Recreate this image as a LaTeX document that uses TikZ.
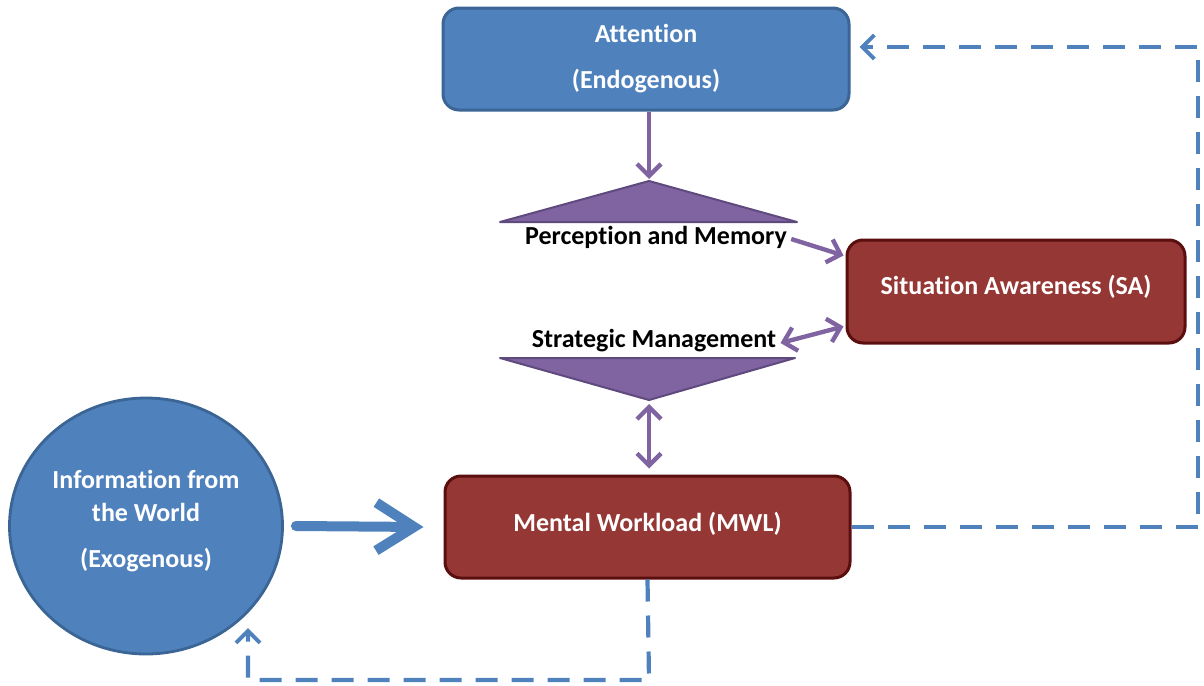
\documentclass[tikz,border=0pt]{standalone}
\usepackage{fontspec}
\setmainfont{Carlito}[Ligatures=NoCommon]
\usetikzlibrary{arrows.meta,calc,shapes.geometric}
\definecolor{boxblue}{HTML}{4F81BD}
\definecolor{blueedge}{HTML}{3A6594}
\definecolor{boxred}{HTML}{953735}
\definecolor{rededge}{HTML}{5A0E0E}
\definecolor{tripurple}{HTML}{8064A2}
\definecolor{purpleedge}{HTML}{5F4A7E}
\tikzset{
  labelfont/.style={font=\bfseries\fontsize{13}{15}\selectfont},
  bluebox/.style={draw=blueedge,fill=boxblue,line width=1.5pt,rounded corners=8pt,
    text=white,labelfont,align=center},
  redbox/.style={draw=rededge,fill=boxred,line width=1.5pt,rounded corners=8pt,
    text=white,labelfont,align=center},
  tri/.style={draw=purpleedge,fill=tripurple,line width=1pt,line join=round},
  trilabel/.style={labelfont,text=black,inner sep=0pt},
  parrow/.style={draw=tripurple,line width=2.2pt,
    -{Straight Barb[length=6pt,width=12pt,line width=2.2pt]}},
  pboth/.style={draw=tripurple,line width=2.2pt,
    {Straight Barb[length=6pt,width=12pt,line width=2.2pt]}-{Straight Barb[length=6pt,width=12pt,line width=2.2pt]}},
  bigarrow/.style={draw=boxblue,line width=5pt,line cap=round,
    -{Straight Barb[length=19pt,width=24pt,line width=5pt]}},
  feedback/.style={draw=boxblue,line width=2.1pt,dash pattern=on 11pt off 7pt,
    -{Straight Barb[length=6pt,width=12pt,line width=2pt]}}
}
\begin{document}
\begin{tikzpicture}[x=0.5pt,y=-0.5pt]
\useasboundingbox (0,0) rectangle (1204,685);

% boxes
\node[bluebox,minimum width=203pt,minimum height=51pt] (att) at (646,59)
  {\raisebox{1pt}{Attention}\\[7pt](Endogenous)};
\node[redbox,minimum width=169pt,minimum height=51.5pt,text depth=7pt] (sa) at (1016,291.5)
  {Situation Awareness (SA)};
\node[redbox,minimum width=202.5pt,minimum height=51pt,text depth=5pt] (mwl) at (647.5,527)
  {Mental Workload (MWL)};
\node[ellipse,draw=blueedge,fill=boxblue,line width=1.4pt,minimum width=136.5pt,
  minimum height=128pt] (world) at (146,526) {};
\node[text=white,labelfont,align=center] (worldtxt)
  at (146,521) {Information from\\[1.5pt]the World\\[8pt](Exogenous)};

% triangles for perception/memory and strategic management
\coordinate (apex1) at (649,181);
\coordinate (apex2) at (649,400);
\path[tri] (apex1) -- (797,222) -- (500,222) -- cycle;
\path[tri] (500,358) -- (795,358) -- (apex2) -- cycle;
\node[trilabel] (pm) at (656,237) {Perception and Memory};
\node[trilabel] (sm) at (654,341) {Strategic Management};

% purple connectors
\draw[parrow] (att.south -| apex1) -- ($(apex1)+(0,-2)$);
\draw[parrow] ($(pm.east)+(4,2)$) -- ($(sa.west)+(-2,-36)$);
\draw[pboth] ($(sm.east)+(4,2)$) -- ($(sa.west)+(-2,35)$);
\draw[pboth] ($(apex2)+(0,4)$) -- ($(mwl.north -| apex2)+(0,-6)$);

% input from the world
\draw[bigarrow] ($(world.east)+(12,0)$) -- ($(mwl.west)+(-20,0)$);

% dashed feedback loops
\coordinate (back) at (248,628);
\draw[feedback] (mwl.east) -- (1198,527) -- (1198,47) -- ($(att.east)+(9,-12)$);
\draw[feedback] (mwl.south) -- (649,680) -- (248,680) -- (back);
\end{tikzpicture}
\end{document}
